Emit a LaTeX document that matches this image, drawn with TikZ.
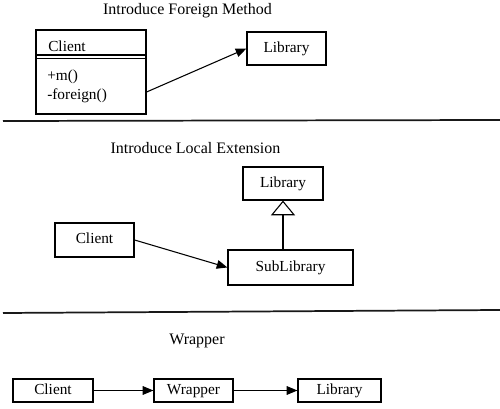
\documentclass[tikz,border=0pt]{standalone}
\usepackage{fontspec}
\setmainfont{Liberation Serif}
\usetikzlibrary{arrows.meta}
\begin{document}
\begin{tikzpicture}[x=0.75pt,y=-0.75pt,
  box/.style={draw,line width=0.9pt,rectangle,inner sep=0pt,text height=8pt,text depth=2.5pt,font=\fontsize{11.5pt}{13pt}\selectfont},
  lbl/.style={inner sep=0pt,font=\fontsize{11.5pt}{13pt}\selectfont},
  title/.style={inner sep=0pt,anchor=base,font=\fontsize{12pt}{14pt}\selectfont},
  assoc/.style={line width=0.8pt,-{Triangle[length=8pt,width=6.5pt]}},
  inherit/.style={line width=0.8pt,-{Triangle[open,length=11pt,width=18pt,line width=0.8pt]}},
  sep/.style={line width=1.3pt,draw=black!90}]
\useasboundingbox (0,0) rectangle (500,409);
% Section 1
\node[title] (t1) at (187.5,15) {Introduce Foreign Method};
\node[box,minimum width=82.5pt,minimum height=63pt] (cf) at (91,72) {};
\coordinate (d1l) at (36,55); \coordinate (d1r) at (146,55);
\coordinate (d2l) at (36,58.3); \coordinate (d2r) at (146,58.3);
\draw[line width=0.8pt] (d1l) -- (d1r) (d2l) -- (d2r);
\node[lbl,anchor=base west] (cname) at (48,52) {Client};
\node[lbl,anchor=base west] (m1) at (47,81) {+m()};
\node[lbl,anchor=base west] (m2) at (47,100) {-foreign()};
\node[box,minimum width=59.25pt,minimum height=24.75pt] (lt) at (286.5,48.5) {Library};
\draw[assoc] ([yshift=-15pt]cf.east) -- (lt.west);
\coordinate (s1a) at (3,121); \coordinate (s1b) at (500,120);
\draw[sep] (s1a) -- (s1b);
% Section 2
\node[title] (t2) at (195.5,154) {Introduce Local Extension};
\node[box,minimum width=60pt,minimum height=24.75pt] (lm) at (283,183.5) {Library};
\node[box,minimum width=93.75pt,minimum height=26.25pt] (sl) at (290.5,267.5) {SubLibrary};
\node[box,minimum width=59.25pt,minimum height=25.5pt] (cm) at (94.5,240) {Client};
\draw[assoc] (cm.east) -- (sl.west);
\draw[inherit] (lm.south |- sl.north) -- (lm.south);
\coordinate (s2a) at (3,313); \coordinate (s2b) at (500,310);
\draw[sep] (s2a) -- (s2b);
% Section 3
\node[title] (t3) at (197,345) {Wrapper};
\node[box,minimum width=60pt,minimum height=17.25pt] (cb) at (53,390.5) {Client};
\node[box,minimum width=59.25pt,minimum height=17.25pt] (wb) at (193.5,390.5) {Wrapper};
\node[box,minimum width=62.25pt,minimum height=17.25pt] (lb) at (339.5,390.5) {Library};
\draw[assoc] (cb.east) -- (wb.west);
\draw[assoc] (wb.east) -- (lb.west);
\end{tikzpicture}
\end{document}
